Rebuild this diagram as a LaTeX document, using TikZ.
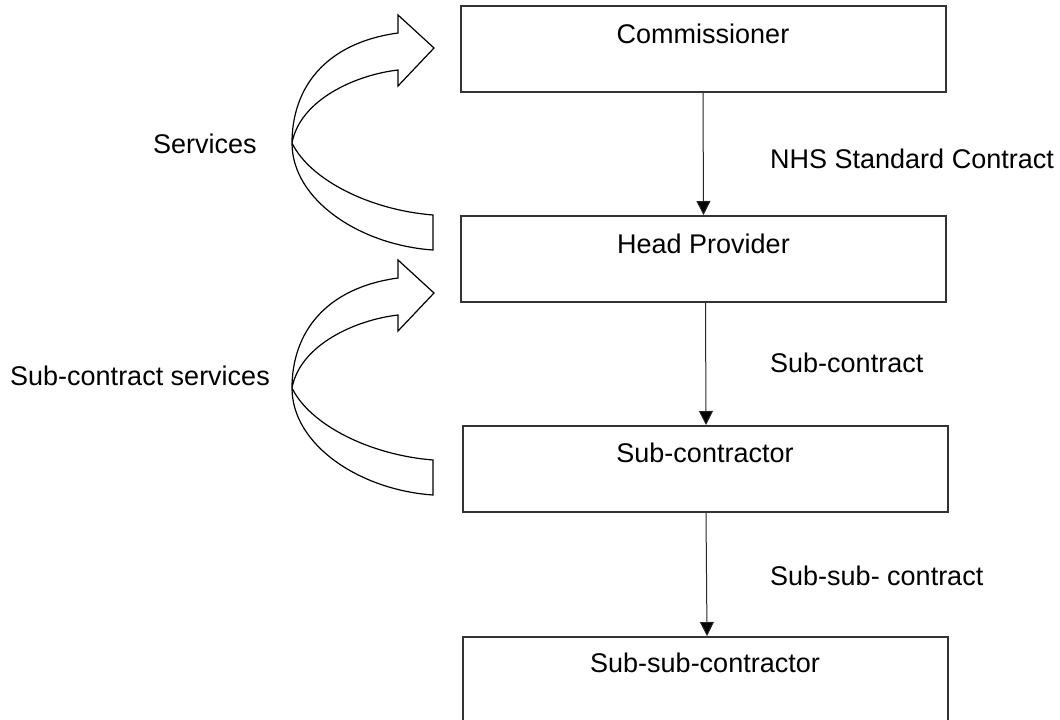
\documentclass[tikz,border=0pt]{standalone}
\usepackage{fontspec}
\setmainfont{Liberation Sans}
\usetikzlibrary{arrows.meta}

\begin{document}
\begin{tikzpicture}[x=1pt,y=-1pt,
  box/.style={draw=black!80, line width=2pt, minimum width=485pt, minimum height=86pt, inner sep=0pt},
  lbl/.style={anchor=base, inner sep=0pt, font=\fontsize{27}{32}\selectfont},
  link/.style={draw=black!85, line width=1pt, -{Triangle[length=14pt,width=14pt,fill=black]}},
  uturn/.style={draw=black, line width=1.2pt, fill=white, line join=miter}]
  \useasboundingbox (0,0) rectangle (1060,720);

  \node[box] (com) at (703,49) {};
  \node[box] (hp) at (703.5,259) {};
  \node[box] (sc) at (705,469) {};
  \node[box] (ssc) at (705,680) {};

  \node[lbl] (com-t) at (703,43) {Commissioner};
  \node[lbl] (hp-t) at (703.5,253) {Head Provider};
  \node[lbl] (sc-t) at (705,462) {Sub-contractor};
  \node[lbl] (ssc-t) at (705,672) {Sub-sub-contractor};

  \draw[link] (com.south) -- (hp.north);
  \draw[link] ([xshift=2pt]hp.south) -- ([xshift=1pt]sc.north);
  \draw[link] ([xshift=1pt]sc.south) -- ([xshift=2pt]ssc.north);

  \node[lbl, anchor=base west] (nhs) at (770,168) {NHS Standard Contract};
  \node[lbl, anchor=base west] (sub) at (770,372) {Sub-contract};
  \node[lbl, anchor=base west] (ssub) at (770,585) {Sub-sub- contract};

  % curved service arrows
  \foreach \dy in {0,245}{
  \begin{scope}[yshift=-\dy pt]
  \draw[uturn] (433,215) .. controls (370,210) and (310,180) .. (292,143)
    .. controls (300,100) and (355,75) .. (398,70)
    -- (398,86) -- (434,48) -- (398,15) -- (398,33)
    .. controls (325,43) and (292,88) .. (292,143)
    .. controls (292,200) and (360,245) .. (433,250) -- cycle;
  \end{scope}}

  \node[lbl, anchor=base west] (serv) at (153,153) {Services};
  \node[lbl, anchor=base west] (subserv) at (10,385) {Sub-contract services};
\end{tikzpicture}
\end{document}
